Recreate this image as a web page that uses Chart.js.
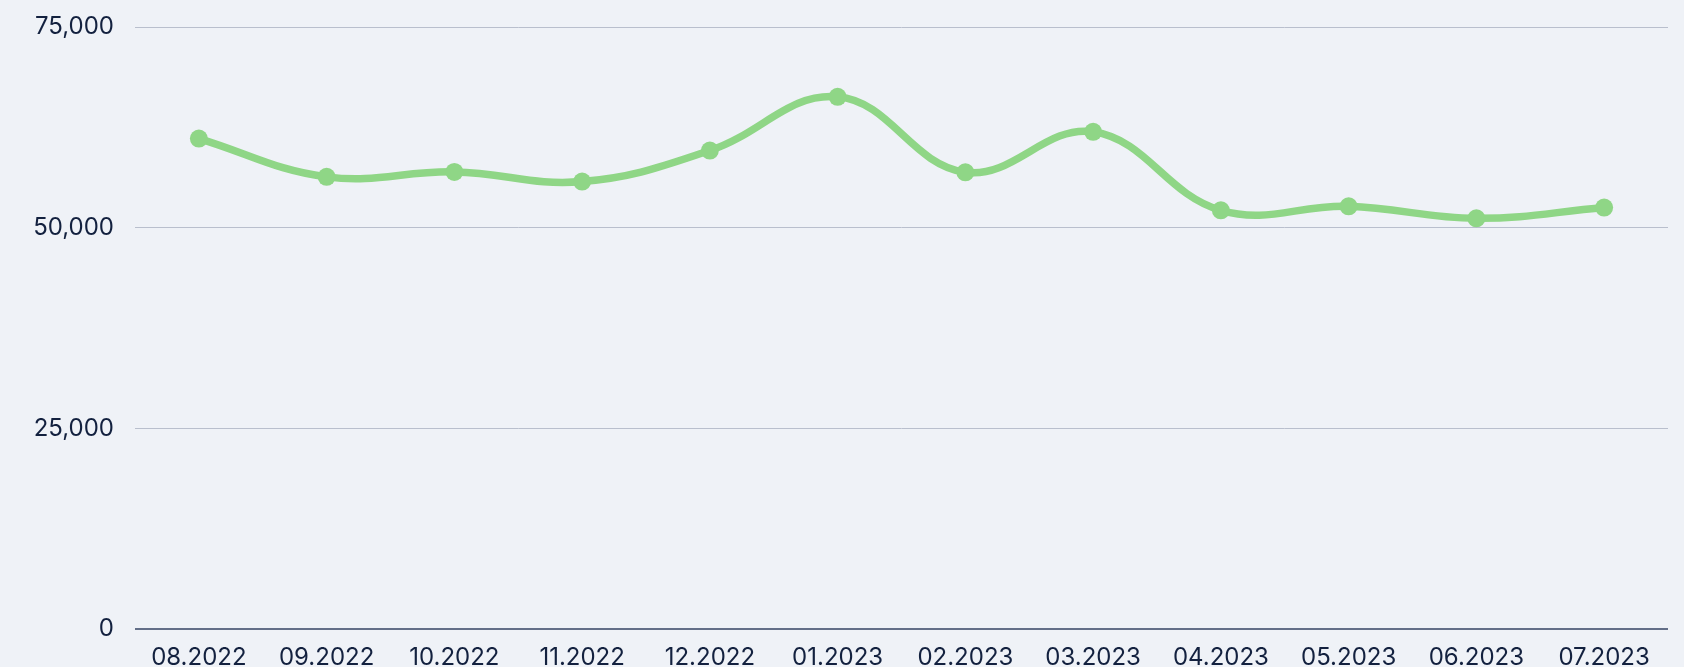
<!DOCTYPE html>
<html lang="en">
<head>
  <meta charset="UTF-8">
  <title>Monthly values</title>
  <script src="https://cdn.jsdelivr.net/npm/chart.js"></script>
  <style>
    html, body { margin: 0; padding: 0; background: #eff2f7; }
    #wrap { width: 1684px; height: 667px; }
  </style>
</head>
<body>
  <div id="wrap"><canvas id="chart" width="1684" height="667"></canvas></div>

  <script>
    const months = ['08.2022', '09.2022', '10.2022', '11.2022', '12.2022', '01.2023',
                    '02.2023', '03.2023', '04.2023', '05.2023', '06.2023', '07.2023'];
    const values = [61100, 56330, 56950, 55740, 59610, 66300,
                    56900, 61940, 52160, 52660, 51170, 52500];
    const yTicks = [0, 25000, 50000, 75000];

    const textColor = '#13213f';
    const gridColor = '#b9bfcd';
    const zeroColor = '#636f88';
    const lineColor = '#8fd686';

    const ctx = document.getElementById('chart').getContext('2d');
    new Chart(ctx, {
      type: 'line',
      data: {
        labels: months,
        datasets: [{
          data: values,
          borderColor: lineColor,
          backgroundColor: lineColor,
          borderWidth: 7.5,
          tension: 0.4,
          pointRadius: 9,
          pointBorderWidth: 0,
          pointBackgroundColor: lineColor
        }]
      },
      options: {
        responsive: false,
        animation: false,
        layout: { padding: { top: 27, right: 16, left: 0, bottom: 0 } },
        plugins: { legend: { display: false }, tooltip: { enabled: false } },
        scales: {
          x: {
            offset: true,
            grid: { display: false, drawTicks: false },
            border: { display: false },
            ticks: {
              color: textColor,
              padding: 14,
              maxRotation: 0,
              font: { family: 'Inter', size: 24 }
            },
            afterFit: s => { s.height = 38; s.paddingLeft = 0; s.paddingRight = 0; }
          },
          y: {
            min: 0,
            max: 75000,
            afterBuildTicks: s => { s.ticks = yTicks.map(v => ({ value: v })); },
            grid: {
              drawTicks: false,
              color: c => c.tick && c.tick.value === 0 ? zeroColor : gridColor,
              lineWidth: c => c.tick && c.tick.value === 0 ? 2 : 1
            },
            border: { display: false },
            ticks: {
              color: textColor,
              padding: 21,
              font: { family: 'Inter', size: 24 },
              callback: v => v.toLocaleString('en-US')
            },
            afterFit: s => { s.width = 135; s.paddingTop = 0; s.paddingBottom = 0; }
          }
        }
      }
    });
  </script>
</body>
</html>
